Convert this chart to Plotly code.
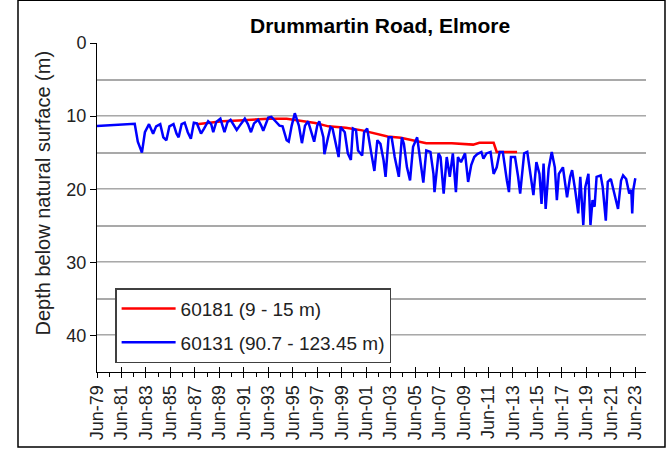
import plotly.graph_objects as go

# ---- data ----
blue_dates = ["1979-06","1982-07","1982-10","1983-02","1983-05","1983-09","1984-01","1984-04","1984-08","1984-11",
              "1985-02","1985-05","1985-09","1985-12","1986-02","1986-05","1986-08","1986-11","1987-02","1987-05",
              "1987-08","1987-12","1988-03","1988-07","1988-10","1988-12","1989-03","1989-07","1989-11","1990-02",
              "1990-05","1990-08","1990-11","1991-02","1991-07","1991-10","1992-01","1992-04","1992-08","1992-11",
              "1993-01","1993-06","1993-09","1994-01","1994-05","1994-08","1994-12","1995-02","1995-05","1995-08",
              "1995-12","1996-03","1996-06","1996-09","1996-12","1997-03","1997-06","1997-08","1997-12","1998-01",
              "1998-04","1998-07","1998-09","1999-01","1999-03","1999-05","1999-09","1999-12","2000-03","2000-05",
              "2000-08","2000-10","2001-02","2001-04","2001-07","2001-11","2002-02","2002-05","2002-08","2002-11",
              "2003-01","2003-04","2003-07","2003-10","2004-02","2004-05","2004-07","2004-10","2005-01","2005-04",
              "2005-08","2005-11","2006-02","2006-05","2006-09","2006-12","2007-01","2007-05","2007-07","2007-10",
              "2008-01","2008-04","2008-07","2008-10","2008-12","2009-03","2009-07","2009-10","2010-01","2010-04",
              "2010-07","2010-11","2011-01","2011-04","2011-08","2011-11","2012-02","2012-05","2012-08","2012-12",
              "2013-02","2013-04","2013-08","2013-11","2014-01","2014-05","2014-08","2014-12","2015-02","2015-05",
              "2015-08","2015-10","2015-12","2016-02","2016-05","2016-08","2016-11","2017-01","2017-03","2017-07",
              "2017-09","2017-11","2018-02","2018-04","2018-07","2018-10","2018-12","2019-03","2019-05","2019-08",
              "2019-10","2019-12","2020-02","2020-04","2020-08","2020-10","2021-01","2021-03","2021-06","2021-08",
              "2021-11","2022-01","2022-04","2022-06","2022-09","2022-12","2023-02","2023-03","2023-04","2023-06"]
blue_depth = [11.35,11.05,13.5,15.0,12.2,11.1,12.4,11.4,11.1,12.9,
              13.3,11.4,11.1,12.4,12.9,11.1,10.9,12.2,13.1,10.9,
              11.0,12.4,11.7,10.7,11.1,12.2,10.8,10.35,12.2,10.8,
              10.5,11.3,11.9,11.3,10.35,11.1,12.2,11.0,10.5,11.3,
              12.0,10.2,10.1,10.7,11.3,11.4,13.3,13.5,11.3,9.6,
              11.3,13.7,11.3,10.7,12.2,13.5,11.3,10.7,12.9,15.2,
              13.3,11.5,11.7,14.7,15.6,11.5,12.2,15.1,16.0,11.7,
              11.9,14.7,15.4,12.2,11.7,15.1,17.5,13.3,13.8,16.0,
              18.3,12.9,12.9,15.6,18.3,12.9,13.8,17.0,18.8,14.2,
              12.9,16.0,19.1,14.7,14.9,17.9,20.4,15.1,15.6,20.6,
              15.6,18.3,15.1,20.4,15.6,16.3,15.1,19.0,16.7,15.6,
              15.2,14.9,15.8,15.1,14.9,17.9,17.0,14.9,14.9,18.8,
              20.4,15.6,15.6,18.3,20.6,15.1,14.9,18.8,20.8,16.3,
              17.9,22.0,16.5,22.7,17.2,14.9,17.0,21.5,17.9,17.0,
              18.8,21.1,18.3,17.4,20.1,23.3,18.3,24.9,19.7,17.9,
              24.9,21.5,22.4,18.3,18.1,19.7,24.3,19.0,18.6,19.7,
              21.5,22.7,18.8,18.1,18.6,20.6,20.1,23.3,20.1,18.5]

red_dates = ["1987-08","1989-09","1991-01","1992-06","1993-06","1994-12","1995-12","1997-04","1998-05","1999-10",
             "2001-02","2002-03","2003-03","2004-04","2005-04","2006-05","2008-06","2009-01","2010-03","2010-09",
             "2011-11","2012-02","2013-10"]
red_depth = [11.1,10.7,10.6,10.5,10.35,10.35,10.6,10.95,11.4,11.6,
             11.95,12.4,12.8,12.95,13.3,13.7,13.7,13.8,13.9,13.65,
             13.65,14.9,14.9]

red_name = "60181 (9 - 15 m)"
blue_name = "60131 (90.7 - 123.45 m)"
title_text = "Drummartin Road, Elmore"
y_title = "Depth below natural surface (m)"
y_ticks = [0, 10, 20, 30, 40]

FONT = "Arial, Liberation Sans, sans-serif"
x_range = ["1979-06-01", "2024-04-15"]

fig = go.Figure()
fig.add_trace(go.Scatter(x=red_dates, y=red_depth, mode="lines", name=red_name,
                         legendgroup="a", line=dict(color="#ff0000", width=2.5)))
fig.add_trace(go.Scatter(x=blue_dates, y=blue_depth, mode="lines", name=blue_name,
                         legendgroup="b", line=dict(color="#0000ff", width=2.5)))

fig.update_layout(
    width=671, height=451,
    margin=dict(l=97, r=25, t=43, b=79),
    paper_bgcolor="white", plot_bgcolor="white",
    font=dict(family=FONT, color="black", size=18),
    showlegend=True,
    legend=dict(x=0.033, y=0.255, xanchor="left", yanchor="top",
                bordercolor="#404040", borderwidth=1.5, bgcolor="white",
                font=dict(size=19, family=FONT, color="#222"),
                itemwidth=54,
                traceorder="grouped", tracegroupgap=6),
    xaxis=dict(type="date", range=x_range, showgrid=False, showline=True,
               linecolor="black", linewidth=1, ticks="outside", ticklen=5,
               tickcolor="black", tick0="1979-06-01", dtick="M24",
               tickformat="%b-%y", tickangle=-90,
               tickfont=dict(size=18, family=FONT, color="#222"),
               minor=dict(dtick="M12", tick0="1979-06-01", ticks="outside",
                          ticklen=4, tickcolor="black", showgrid=False),
               automargin=False, zeroline=False),
    xaxis2=dict(type="date", range=x_range, overlaying="x", anchor="y", side="bottom",
                showgrid=False, showline=False, ticks="inside", ticklen=5,
                tickcolor="black", tick0="1979-06-01", dtick="M24",
                showticklabels=False, automargin=False, zeroline=False),
    yaxis=dict(range=[45, 0], tickvals=y_ticks, showline=True, linecolor="black",
               linewidth=1, ticks="outside", ticklen=6, tickcolor="black",
               showgrid=True, gridcolor="#d0d0d0", gridwidth=1,
               minor=dict(dtick=5, tick0=0, showgrid=True, gridcolor="#a9a9a9",
                          gridwidth=2, ticks=""),
               tickfont=dict(size=18, family=FONT, color="#222"),
               automargin=False, zeroline=False),
    annotations=[
        dict(text="<b>" + title_text + "</b>", xref="paper", yref="paper",
             x=0.5146, y=1.0, yshift=18, xanchor="center", yanchor="middle",
             showarrow=False, font=dict(size=21, family=FONT, color="black")),
        dict(text=y_title, xref="paper", yref="paper", x=-0.0975, y=0.544,
             xanchor="center", yanchor="middle", textangle=-90, showarrow=False,
             font=dict(size=20, family=FONT, color="#222")),
    ],
    shapes=[dict(type="rect", xref="paper", yref="paper", x0=-0.1439, x1=1.0346,
                 y0=-0.228, y1=1.13, line=dict(color="black", width=1.5))],
)
# dummy trace so xaxis2 is drawn
fig.add_trace(go.Scatter(x=[x_range[0]], y=[None], xaxis="x2", showlegend=False,
                         hoverinfo="skip"))

fig.write_html("out.html", config={"displayModeBar": False},
               post_script="document.body.style.margin='0';")
